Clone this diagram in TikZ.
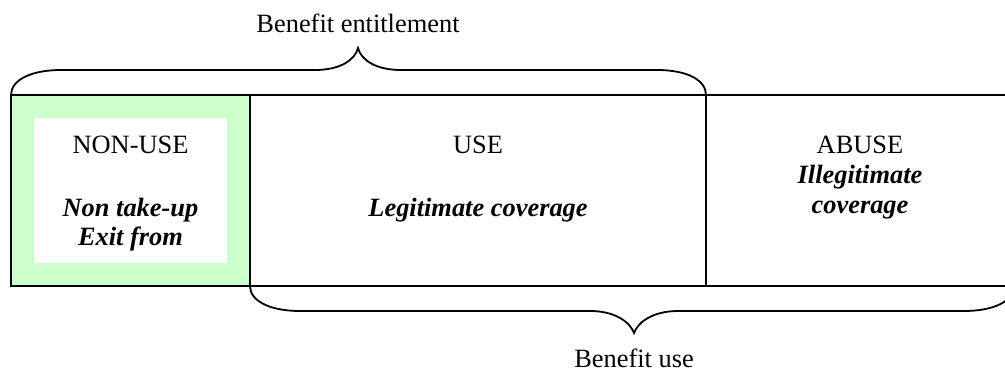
\documentclass[tikz,border=0pt]{standalone}
\usepackage{fontspec}
\setmainfont{Liberation Serif}
\usetikzlibrary{positioning}

\definecolor{nonusegreen}{HTML}{CCFFCC}

\tikzset{
  cell/.style={draw, line width=0.9pt, rectangle, outer sep=0pt, inner sep=0pt, minimum height=95.5pt},
  head/.style={anchor=base, inner sep=0pt, font=\fontsize{13.2}{15}\selectfont},
  bold/.style={anchor=base, inner sep=0pt, font=\fontsize{13.2}{15}\selectfont\bfseries\itshape},
  brace/.style={line width=0.9pt}
}

\begin{document}
\begin{tikzpicture}[x=0.5pt, y=-0.5pt]
  \clip (0,0) rectangle (1005,370);
  \useasboundingbox (0,0) rectangle (1005,370);

  % the three cells
  \node[cell, fill=nonusegreen, anchor=north west, minimum width=119.5pt] (nonuse) at (11,95) {};
  \node[fill=white, inner sep=0pt, minimum width=96.5pt, minimum height=72.5pt, anchor=north west] (nonusein) at (34,118) {};
  \node[cell, anchor=north west, minimum width=228pt] (use) at (nonuse.north east) {};
  \node[cell, anchor=north west, minimum width=154pt] (abuse) at (use.north east) {};

  % texts
  \node[head] (nonusehead) at (130.5,153) {NON-USE};
  \node[bold] (nontakeup) at (130.5,216) {Non take-up};
  \node[bold] (exitfrom) at (130.5,245) {Exit from};

  \node[head] (usehead) at (478,153) {USE};
  \node[bold] (legit) at (478,216) {Legitimate coverage};

  \node[head] (abusehead) at (860,153) {ABUSE};
  \node[bold] (illegit) at (860,183) {Illegitimate};
  \node[bold] (illcover) at (860,213) {coverage};

  \node[head] (entitle) at (358,32) {Benefit entitlement};
  \node[head] (benuse) at (634,367) {Benefit use};

  % braces
  \draw[brace] (nonuse.north west) .. controls +(0,-15) and +(-30,0) .. ++(50,-25)
    -- (315,70) .. controls (340,70) and (355,60) .. (358,48)
    .. controls (361,60) and (376,70) .. (401,70)
    -- (657,70) .. controls +(30,0) and +(0,-15) .. (use.north east);

  \draw[brace] (use.south west) .. controls +(0,15) and +(-30,0) .. ++(50,25)
    -- (590,311) .. controls (615,311) and (630,322) .. (634,333)
    .. controls (638,322) and (653,311) .. (678,311)
    -- (964,311) .. controls +(30,0) and +(0,15) .. (abuse.south east);
\end{tikzpicture}
\end{document}
